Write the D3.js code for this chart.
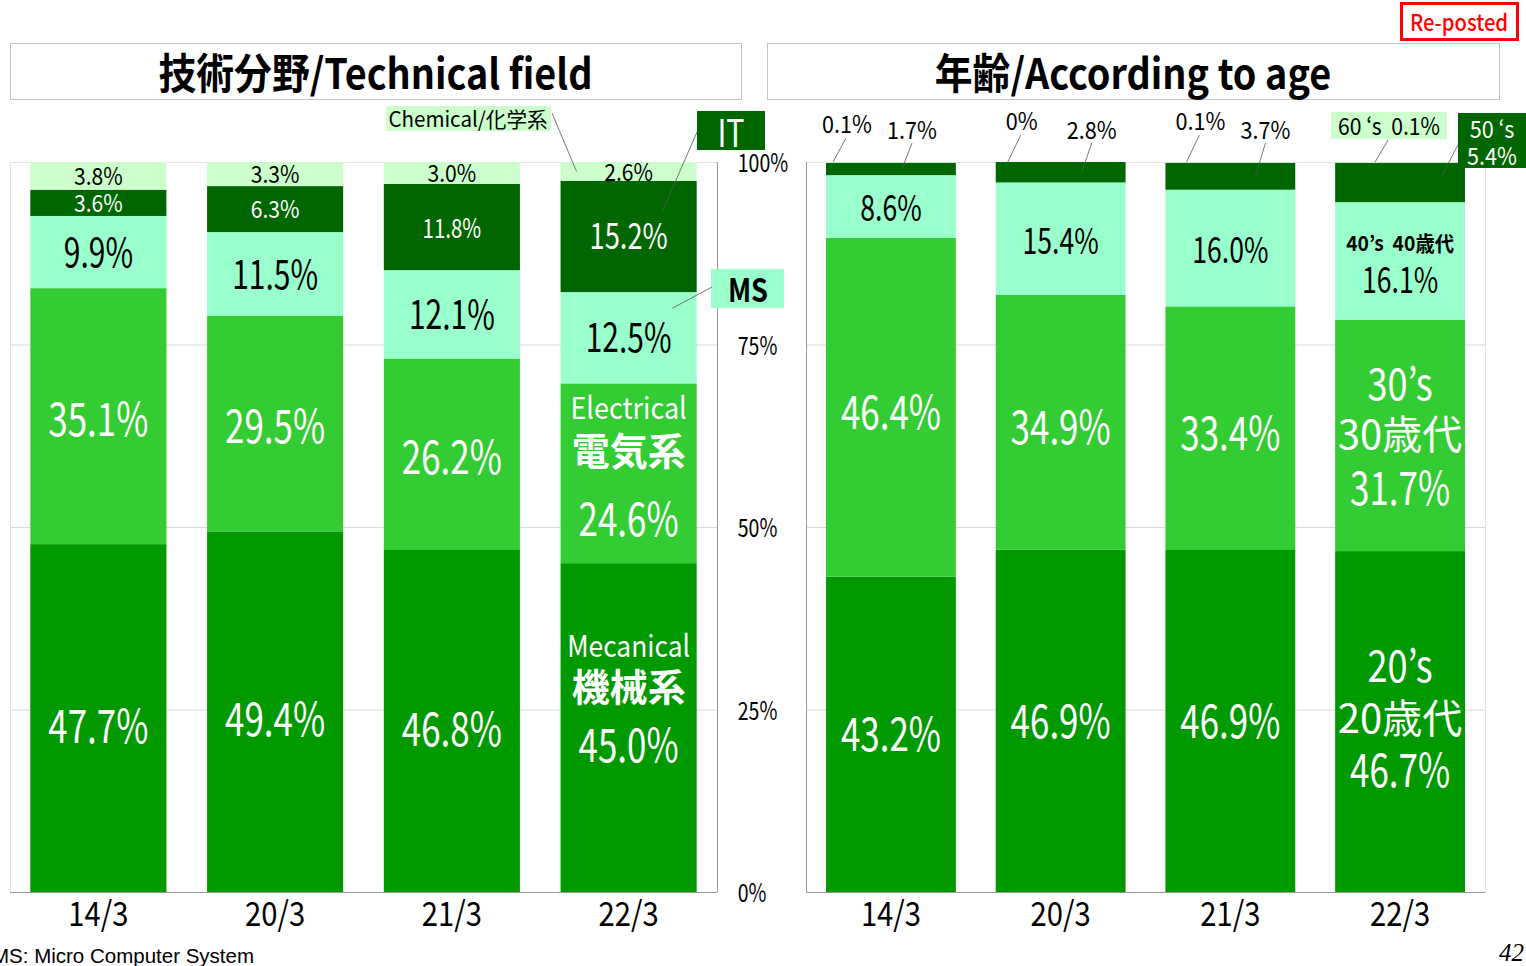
<!DOCTYPE html>
<html>
<head>
<meta charset="utf-8">
<script src="https://cdn.jsdelivr.net/npm/d3@7"></script>
<style>
  body { margin: 0; background: #fff; }
  text { font-family: "Noto Sans CJK JP", "Noto Sans", sans-serif; white-space: pre; }
</style>
</head>
<body>
<svg id="chart" width="1526" height="966"></svg>
<script>
// categories (fiscal year / month)
var years = ["14/3", "20/3", "21/3", "22/3"];

// technical field shares, % (stacked bottom to top)
var fieldKeys = ["mech", "elec", "ms", "it", "chem"];
var mech = [47.7, 49.4, 46.8, 45.0];
var elec = [35.1, 29.5, 26.2, 24.6];
var ms   = [9.9, 11.5, 12.1, 12.5];
var it   = [3.6, 6.3, 11.8, 15.2];
var chem = [3.8, 3.3, 3.0, 2.6];

// age shares, % (stacked bottom to top)
var ageKeys = ["a20", "a30", "a40", "a50", "a60"];
var a20 = [43.2, 46.9, 46.9, 46.7];
var a30 = [46.4, 34.9, 33.4, 31.7];
var a40 = [8.6, 15.4, 16.0, 16.1];
var a50 = [1.7, 2.8, 3.7, 5.4];
var a60 = [0.1, 0, 0.1, 0.1];

// value axis ticks, %
var tickVals = [0, 25, 50, 75, 100];

var colors = {
  mech: "#009900", elec: "#33cc33", ms: "#99ffcc", it: "#006600", chem: "#ccffcc",
  a20: "#009900", a30: "#33cc33", a40: "#99ffcc", a50: "#006600", a60: "#ccffcc"
};

// build the rows d3.stack wants
var fieldRows = years.map(function(y, i) {
  return { year: y, mech: mech[i], elec: elec[i], ms: ms[i], it: it[i], chem: chem[i] };
});
var ageRows = years.map(function(y, i) {
  return { year: y, a20: a20[i], a30: a30[i], a40: a40[i], a50: a50[i], a60: a60[i] };
});

var svg = d3.select("#chart");
var plotTop = 162, plotBottom = 892;

var y = d3.scaleLinear().domain([0, 1]).range([plotBottom, plotTop]);
var xL = d3.scaleBand().domain(years).range([10, 717]).paddingInner(0.23).paddingOuter(0.115);
var xR = d3.scaleBand().domain(years).range([806, 1485]).paddingInner(0.235).paddingOuter(0.118);

function pct(v) { return v === 0 ? "0%" : v.toFixed(1) + "%"; }

// condensed-ish text helper (font sits a bit low with central baseline, so nudge up)
function label(g, x, yy, s, size, color, sx, weight) {
  var nudge = size <= 27 ? 1 : 3;
  return g.append("text")
    .attr("transform", "translate(" + x + "," + (yy - nudge) + ") scale(" + sx + ",1)")
    .attr("text-anchor", "middle")
    .attr("dominant-baseline", "central")
    .style("font-size", size + "px")
    .style("font-weight", weight || 400)
    .attr("fill", color)
    .text(s);
}

// title boxes
function titleBox(x0, x1, s) {
  svg.append("rect").attr("x", x0 + 0.5).attr("y", 43.5).attr("width", x1 - x0).attr("height", 56)
    .attr("fill", "none").attr("stroke", "#888").attr("stroke-dasharray", "1,1");
  label(svg, (x0 + x1) / 2, 74, s, 42, "#000", 0.9, 700);
}
titleBox(10, 741, "技術分野/Technical field");
titleBox(767, 1499, "年齢/According to age");

// Re-posted stamp
svg.append("rect").attr("x", 1401.5).attr("y", 3.5).attr("width", 116).attr("height", 36)
  .attr("fill", "#fff").attr("stroke", "#ff0000").attr("stroke-width", 3);
label(svg, 1459, 22, "Re-posted", 23, "#ff0000", 0.88, 500);

// plot frames and gridlines
function frame(x, side) {
  var r = x.range();
  var g = svg.append("g");
  g.append("rect").attr("x", r[0] + 0.5).attr("y", plotTop + 0.5).attr("width", r[1] - r[0]).attr("height", plotBottom - plotTop)
    .attr("fill", "none").attr("stroke", "#e3e3e3");
  g.append("g")
    .attr("transform", "translate(" + r[0] + ",0)")
    .call(d3.axisLeft(y).tickValues([0.25, 0.5, 0.75]).tickSize(-(r[1] - r[0])).tickFormat(""))
    .call(function(a) { a.select(".domain").remove(); a.selectAll("line").attr("stroke", "#d9d9d9"); });
  // axis lines
  var ax = side === "right" ? r[1] : r[0];
  g.append("line").attr("x1", ax + 0.5).attr("x2", ax + 0.5).attr("y1", plotTop).attr("y2", plotBottom).attr("stroke", "#999");
  g.append("line").attr("x1", r[0]).attr("x2", r[1]).attr("y1", plotBottom + 0.5).attr("y2", plotBottom + 0.5).attr("stroke", "#999");
}
frame(xL, "right");
frame(xR, "left");

// bars
function bars(rows, keys, x) {
  var series = d3.stack().keys(keys).offset(d3.stackOffsetExpand)(rows);
  var g = svg.append("g");
  series.forEach(function(s) {
    g.selectAll(null).data(s).enter().append("rect")
      .attr("x", function(d) { return x(d.data.year); })
      .attr("width", x.bandwidth())
      .attr("y", function(d) { return y(d[1]); })
      .attr("height", function(d) { return y(d[0]) - y(d[1]); })
      .attr("fill", colors[s.key]);
  });
  return series;
}
var fieldSeries = bars(fieldRows, fieldKeys, xL);
var ageSeries = bars(ageRows, ageKeys, xR);

// category axes
function catAxis(x) {
  svg.append("g").attr("transform", "translate(0," + plotBottom + ")")
    .call(d3.axisBottom(x).tickSize(0).tickPadding(10))
    .call(function(a) {
      a.select(".domain").remove();
      a.selectAll("text").style("font-size", "34px").style("font-family", "Noto Sans CJK JP")
        .attr("fill", "#000").attr("transform", "scale(0.86,1)");
    });
}
catAxis(xL);
catAxis(xR);

// value axis labels between the panels
svg.append("g").attr("transform", "translate(730,0)")
  .call(d3.axisRight(y).tickValues(tickVals.map(function(v) { return v / 100; })).tickSize(0).tickPadding(10)
    .tickFormat(function(d) { return Math.round(d * 100) + "%"; }))
  .call(function(a) {
    a.select(".domain").remove();
    a.selectAll("text").style("font-size", "25px").style("font-family", "Noto Sans CJK JP")
      .attr("fill", "#000").attr("transform", "scale(0.78,1)").attr("dy", "0.38em");
  });

// segment labels
var lg = svg.append("g");
function mid(d) { return (y(d[0]) + y(d[1])) / 2; }

fieldSeries.forEach(function(s) {
  s.forEach(function(d, i) {
    var cx = xL(d.data.year) + xL.bandwidth() / 2;
    var cy = mid(d);
    var v = d.data[s.key];
    var h = y(d[0]) - y(d[1]);
    var last = i === years.length - 1;
    if (s.key === "mech") {
      if (last) {
        label(lg, cx, cy - 81, "Mecanical", 30, "#fff", 0.88);
        label(lg, cx, cy - 40, "機械系", 38, "#fff", 1, 700);
        label(lg, cx, cy + 18, pct(v), 46, "#fff", 0.76);
      } else {
        label(lg, cx, cy + 8, pct(v), 46, "#fff", 0.76);
      }
    } else if (s.key === "elec") {
      if (last) {
        label(lg, cx, cy - 64, "Electrical", 30, "#fff", 0.9);
        label(lg, cx, cy - 22, "電気系", 38, "#fff", 1, 700);
        label(lg, cx, cy + 46, pct(v), 46, "#fff", 0.76);
      } else {
        label(lg, cx, cy + 3, pct(v), 46, "#fff", 0.76);
      }
    } else if (s.key === "ms") {
      label(lg, cx, cy, pct(v), 40, "#000", 0.75);
    } else if (s.key === "it") {
      label(lg, cx, cy, pct(v), h > 100 ? 36 : (h > 60 ? 27 : 24), "#fff", h > 60 ? 0.76 : 0.88);
    } else {
      label(lg, cx, cy, pct(v), 24, "#000", 0.88);
    }
  });
});

ageSeries.forEach(function(s) {
  s.forEach(function(d, i) {
    var cx = xR(d.data.year) + xR.bandwidth() / 2;
    var cy = mid(d);
    var v = d.data[s.key];
    var last = i === years.length - 1;
    if (s.key === "a20") {
      if (last) {
        label(lg, cx, cy - 56, "20’s", 44, "#fff", 0.82);
        label(lg, cx, cy - 3, "20歳代", 40, "#fff", 1);
        label(lg, cx, cy + 49, pct(v), 46, "#fff", 0.76);
      } else {
        label(lg, cx, cy, pct(v), 46, "#fff", 0.76);
      }
    } else if (s.key === "a30") {
      if (last) {
        label(lg, cx, cy - 52, "30’s", 44, "#fff", 0.82);
        label(lg, cx, cy, "30歳代", 40, "#fff", 1);
        label(lg, cx, cy + 53, pct(v), 46, "#fff", 0.76);
      } else {
        label(lg, cx, cy + 5, pct(v), 46, "#fff", 0.76);
      }
    } else if (s.key === "a40") {
      if (last) {
        label(lg, cx, cy - 18, "40’s  40歳代", 21, "#000", 0.92, 700);
        label(lg, cx, cy + 19, pct(v), 36, "#000", 0.74);
      } else {
        label(lg, cx, cy + 2, pct(v), 36, "#000", 0.74);
      }
    }
  });
});

// callouts, left panel (22/3 bar)
var cg = svg.append("g");
function leader(x1, y1, x2, y2) {
  cg.append("line").attr("x1", x1).attr("y1", y1).attr("x2", x2).attr("y2", y2)
    .attr("stroke", "#555").attr("stroke-width", 0.8);
}
var bl = xL(years[3]);
var s22 = {};
fieldSeries.forEach(function(s) { s22[s.key] = s[3]; });
cg.append("rect").attr("x", 386).attr("y", 106).attr("width", 165).attr("height", 25).attr("fill", colors.chem);
label(cg, 468, 119, "Chemical/化学系", 21, "#000", 0.98);
leader(552, 113, bl + 16, mid(s22.chem));
cg.append("rect").attr("x", 697).attr("y", 111).attr("width", 68).attr("height", 39).attr("fill", colors.it);
label(cg, 731, 133, "IT", 38, "#fff", 0.8);
leader(697, 132, bl + 102, y(s22.it[1]) + 30);
cg.append("rect").attr("x", 711).attr("y", 269).attr("width", 73).attr("height", 39).attr("fill", colors.ms);
label(cg, 748, 292, "MS", 32, "#000", 0.85, 700);
leader(712, 287, bl + 112, y(s22.ms[1]) + 16);

// callouts, right panel (60's and 50's)
var callout60 = [{ dx: 21, ly: 124 }, { dx: 26, ly: 121 }, { dx: 35, ly: 121 }];
var callout50 = [{ dx: 86, ly: 130 }, { dx: 96, ly: 130 }, { dx: 100, ly: 130 }];
var s60 = ageSeries[4], s50 = ageSeries[3];
callout60.forEach(function(c, i) {
  var bx = xR(years[i]);
  label(cg, bx + c.dx, c.ly, pct(a60[i]), 24, "#000", 0.9);
  leader(bx + c.dx - 1, c.ly + 14, bx + c.dx - 14, y(s60[i][1]));
  var c5 = callout50[i];
  label(cg, bx + c5.dx, c5.ly, pct(a50[i]), 24, "#000", 0.9);
  leader(bx + c5.dx, c5.ly + 13, bx + c5.dx - 10, (y(s50[i][0]) + y(s50[i][1])) / 2);
});
var bx4 = xR(years[3]);
cg.append("rect").attr("x", 1331).attr("y", 112).attr("width", 116).attr("height", 27).attr("fill", colors.a60);
label(cg, 1389, 126, "60 ‘s  " + pct(a60[3]), 24, "#000", 0.88);
leader(1388, 140, bx4 + 40, y(s60[3][1]));
cg.append("rect").attr("x", 1458).attr("y", 113).attr("width", 68).attr("height", 55).attr("fill", colors.a50);
label(cg, 1492, 129, "50 ‘s", 24, "#fff", 0.9);
label(cg, 1492, 156, pct(a50[3]), 24, "#fff", 0.9);
leader(1458, 145, bx4 + 106, y(s50[3][1]) + 14);

// footnote and page number
svg.append("text").attr("x", -8).attr("y", 963)
  .style("font-family", "Liberation Sans, Arial, sans-serif").style("font-size", "20.5px")
  .text("MS: Micro Computer System");
svg.append("text").attr("x", 1499).attr("y", 961)
  .style("font-family", "Liberation Serif, Times New Roman, serif").style("font-style", "italic").style("font-size", "25px")
  .text("42");
</script>
</body>
</html>
